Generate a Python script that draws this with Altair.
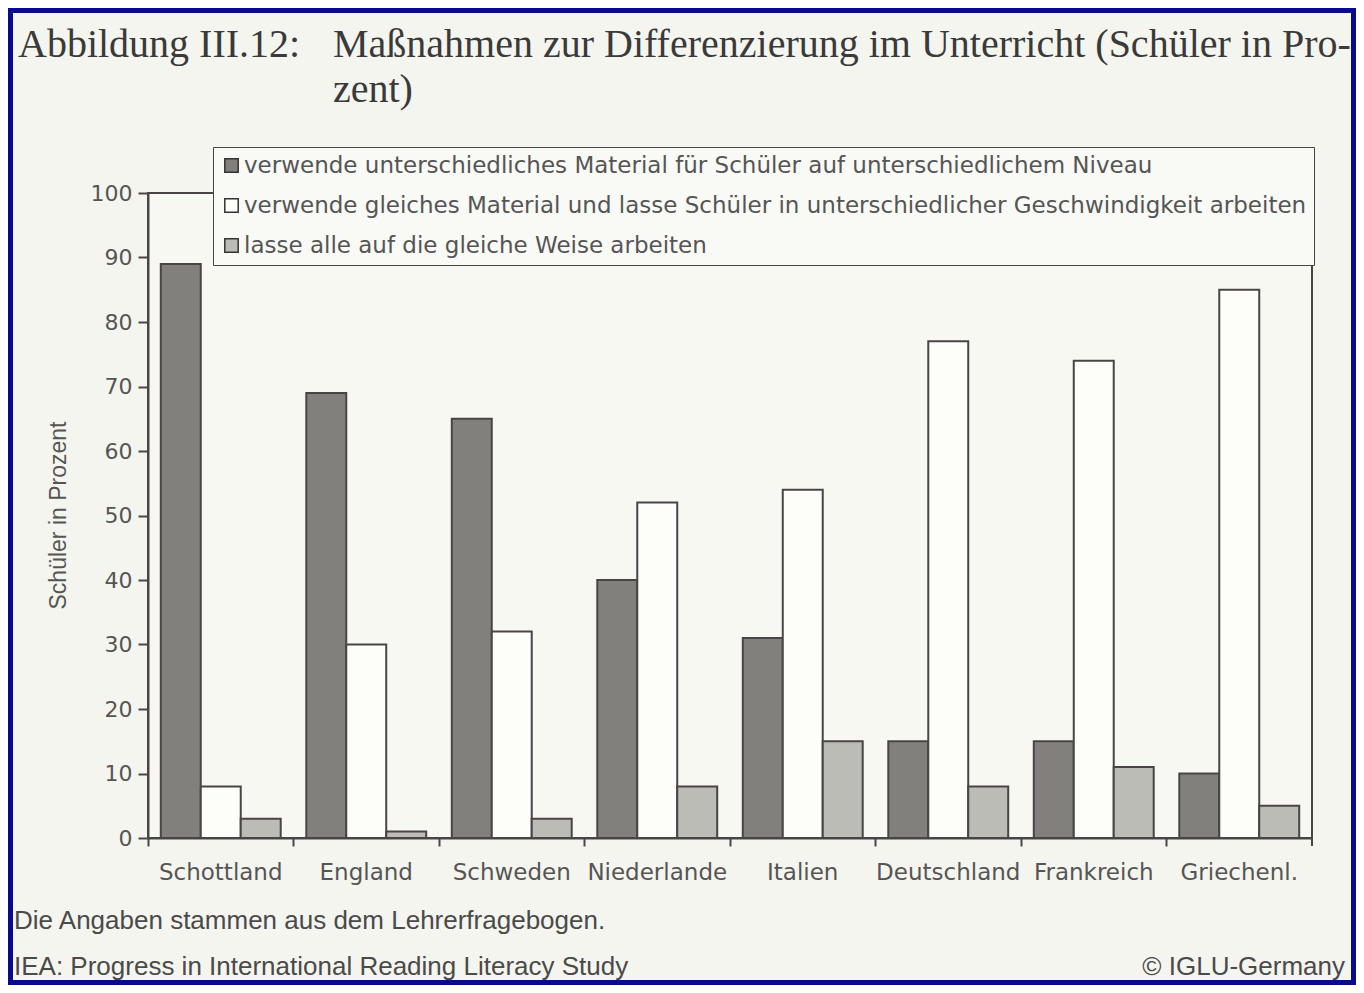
import altair as alt
import pandas as pd

countries = ["Schottland", "England", "Schweden", "Niederlande", "Italien",
             "Deutschland", "Frankreich", "Griechenl."]
series = [
    "verwende unterschiedliches Material für Schüler auf unterschiedlichem Niveau",
    "verwende gleiches Material und lasse Schüler in unterschiedlicher Geschwindigkeit arbeiten",
    "lasse alle auf die gleiche Weise arbeiten",
]
diff_material = [89, 69, 65, 40, 31, 15, 15, 10]
same_material = [8, 30, 32, 52, 54, 77, 74, 85]
same_way = [3, 1, 3, 8, 15, 8, 11, 5]
colors = ["#82807d", "#fdfdfa", "#bcbcb7"]

title_left = "Abbildung III.12:"
title_line1 = "Maßnahmen zur Differenzierung im Unterricht (Schüler in Pro-"
title_line2 = "zent)"
footer1 = "Die Angaben stammen aus dem Lehrerfragebogen."
footer2 = "IEA: Progress in International Reading Literacy Study"
footer3 = "© IGLU-Germany"

rows = []
for vals, s in zip([diff_material, same_material, same_way], series):
    for c, v in zip(countries, vals):
        rows.append({"Land": c, "Serie": s, "Wert": v})
df = pd.DataFrame(rows)

W, H = 1164, 645
PAD = {"left": 140, "top": 185, "right": 44, "bottom": 147}

ink = "#4a4545"
label_col = "#555555"

bars = alt.Chart(df).mark_bar(stroke=ink, strokeWidth=2).encode(
    x=alt.X("Land:N", sort=countries, title=None,
            scale=alt.Scale(paddingInner=0, paddingOuter=0),
            axis=alt.Axis(bandPosition=0, labelAngle=0, labelFont="DejaVu Sans",
                          labelFontSize=23, labelColor=label_col, tickSize=8,
                          tickColor=ink, tickWidth=2, domainColor=ink, domainWidth=2,
                          labelPadding=15, grid=False, labelBaseline="top")),
    xOffset=alt.XOffset("Serie:N", sort=series,
                        scale=alt.Scale(paddingOuter=0.32, paddingInner=0)),
    y=alt.Y("Wert:Q", scale=alt.Scale(domain=[0, 100]), title="Schüler in Prozent",
            axis=alt.Axis(values=list(range(0, 101, 10)), labelFont="DejaVu Sans",
                          labelFontSize=22, labelColor=label_col, tickSize=10,
                          tickColor=ink, tickWidth=2, domainColor=ink, domainWidth=2,
                          labelPadding=6, grid=False,
                          titleFont="Liberation Sans", titleFontSize=23,
                          titleFontWeight="normal", titleColor=label_col,
                          titleAngle=270, titleX=-90, titleY=322,
                          titleAlign="center", titleBaseline="middle")),
    color=alt.Color("Serie:N", sort=series,
                    scale=alt.Scale(domain=series, range=colors),
                    legend=alt.Legend(orient="none", legendX=65, legendY=-46,
                                      direction="vertical", title=None,
                                      fillColor="#f9f9f5", strokeColor=ink,
                                      padding=7, symbolType="square",
                                      symbolSize=180, symbolStrokeColor="#333333",
                                      symbolStrokeWidth=1.5, labelFont="DejaVu Sans",
                                      labelFontSize=23, labelColor=label_col,
                                      labelLimit=1300, rowPadding=16, labelOffset=1)),
)

end_tick = alt.Chart(pd.DataFrame({"a": [0]})).mark_rule(
    color=ink, strokeWidth=2).encode(
    x=alt.value(W), y=alt.value(H), y2=alt.value(H + 8))


def txt(text, x, y, font, size, color, align="left"):
    return alt.Chart(pd.DataFrame({"t": [text]})).mark_text(
        font=font, fontSize=size, color=color, align=align, baseline="alphabetic"
    ).encode(x=alt.value(x), y=alt.value(y), text="t:N")


t1 = txt(title_left, -130, -136, "Liberation Serif", 40, "#3a3a3a")
t2 = txt(title_line1, 185, -136, "Liberation Serif", 40, "#3a3a3a")
t3 = txt(title_line2, 185, -91, "Liberation Serif", 40, "#3a3a3a")
f1 = txt(footer1, -134, 736, "Liberation Sans", 26, "#4a4a4a")
f2 = txt(footer2, -134, 782, "Liberation Sans", 26, "#4a4a4a")
f3 = txt(footer3, 1197, 782, "Liberation Sans", 26, "#4a4a4a", align="right")

frame = alt.Chart(pd.DataFrame({"a": [0]})).mark_rect(
    fillOpacity=0, stroke="#0a0a8c", strokeWidth=10).encode(
    x=alt.value(-PAD["left"]), x2=alt.value(W + PAD["right"]),
    y=alt.value(-PAD["top"]), y2=alt.value(H + PAD["bottom"]))

chart = alt.layer(bars, end_tick, t1, t2, t3, f1, f2, f3, frame).properties(
    width=W, height=H,
    autosize=alt.AutoSizeParams(type="none"),
    padding=PAD,
    background="#f5f5ef",
).configure_view(stroke=ink, strokeWidth=2, fill="#f8f8f3")

chart.save("out.html", embed_options={"renderer": "svg", "actions": False})
